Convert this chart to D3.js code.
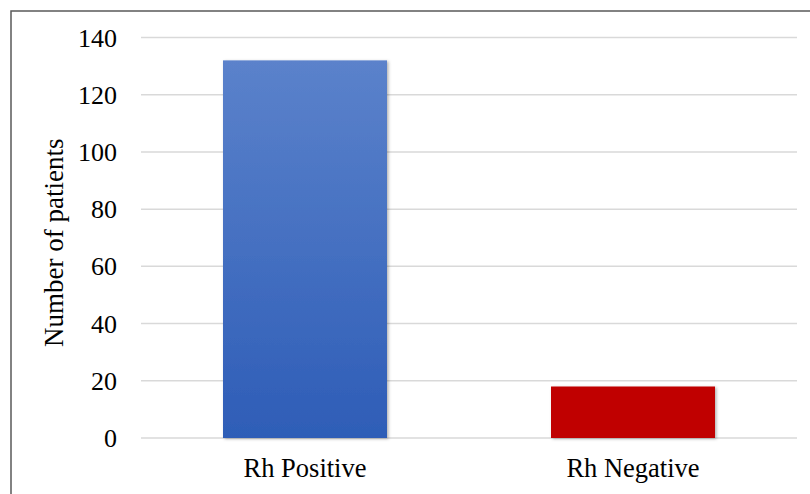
<!DOCTYPE html>
<html>
<head>
<meta charset="utf-8">
<script src="https://cdn.jsdelivr.net/npm/d3@7"></script>
<style>
  html, body { margin: 0; padding: 0; background: #fff; }
  svg { display: block; }
</style>
</head>
<body>
<script>
// Rh blood group distribution
const categories = ["Rh Positive", "Rh Negative"];
const patients = [132, 18];
const yTicks = [0, 20, 40, 60, 80, 100, 120, 140];
const yTitle = "Number of patients";

const W = 810, H = 494;
const margin = { left: 141, right: 13, top: 37.5, bottom: 56 };
const serif = "'Liberation Serif', 'Times New Roman', serif";

const svg = d3.select("body").append("svg")
  .attr("width", W).attr("height", H);

const defs = svg.append("defs");
const grad = defs.append("linearGradient")
  .attr("id", "blueGrad").attr("x1", 0).attr("y1", 0).attr("x2", 0).attr("y2", 1);
grad.append("stop").attr("offset", "0%").attr("stop-color", "#5b82cb");
grad.append("stop").attr("offset", "100%").attr("stop-color", "#2e5db7");

const shadow = defs.append("filter").attr("id", "barShadow")
  .attr("x", "-10%").attr("y", "-10%").attr("width", "130%").attr("height", "130%");
shadow.append("feDropShadow")
  .attr("dx", 1.5).attr("dy", 1).attr("stdDeviation", 1.6)
  .attr("flood-color", "#000").attr("flood-opacity", 0.3);

// Frame
svg.append("rect")
  .attr("x", 11).attr("y", 11).attr("width", W + 20).attr("height", H + 20)
  .attr("fill", "none").attr("stroke", "#5a5a5a").attr("stroke-width", 1.5);

const x = d3.scaleBand()
  .domain(categories)
  .range([margin.left, W - margin.right])
  .paddingInner(0.5).paddingOuter(0.25);

const y = d3.scaleLinear()
  .domain([0, 140])
  .range([H - margin.bottom, margin.top]);

// Gridlines
svg.append("g")
  .selectAll("line")
  .data(yTicks)
  .join("line")
  .attr("x1", margin.left).attr("x2", W - margin.right)
  .attr("y1", d => y(d)).attr("y2", d => y(d))
  .attr("stroke", "#d9d9d9").attr("stroke-width", 1.5);

// Y axis labels
const yAxis = svg.append("g")
  .attr("transform", `translate(${margin.left - 24},0)`)
  .call(d3.axisLeft(y).tickValues(yTicks).tickSize(0).tickPadding(0));
yAxis.select(".domain").remove();
yAxis.selectAll("text")
  .attr("font-family", serif)
  .attr("font-size", 26).attr("fill", "#000")
  .attr("dy", "0.33em");

// Bars
const colors = ["url(#blueGrad)", "#c00000"];
svg.append("g")
  .selectAll("rect")
  .data(categories)
  .join("rect")
  .attr("x", d => x(d))
  .attr("width", x.bandwidth())
  .attr("y", (d, i) => y(patients[i]))
  .attr("height", (d, i) => y(0) - y(patients[i]))
  .attr("fill", (d, i) => colors[i])
  .attr("filter", "url(#barShadow)");

// X axis labels
const xAxis = svg.append("g")
  .attr("transform", `translate(0,${y(0)})`)
  .call(d3.axisBottom(x).tickSize(0).tickPadding(0));
xAxis.select(".domain").remove();
xAxis.selectAll("text")
  .attr("font-family", serif)
  .attr("font-size", 26.5).attr("fill", "#000")
  .attr("dy", null).attr("y", 39);

// Y axis title
svg.append("text")
  .attr("transform", `translate(63,${(y(0) + y(140)) / 2 + 5}) rotate(-90)`)
  .attr("text-anchor", "middle")
  .attr("font-family", serif)
  .attr("font-size", 27).attr("fill", "#000")
  .text(yTitle);
</script>
</body>
</html>
